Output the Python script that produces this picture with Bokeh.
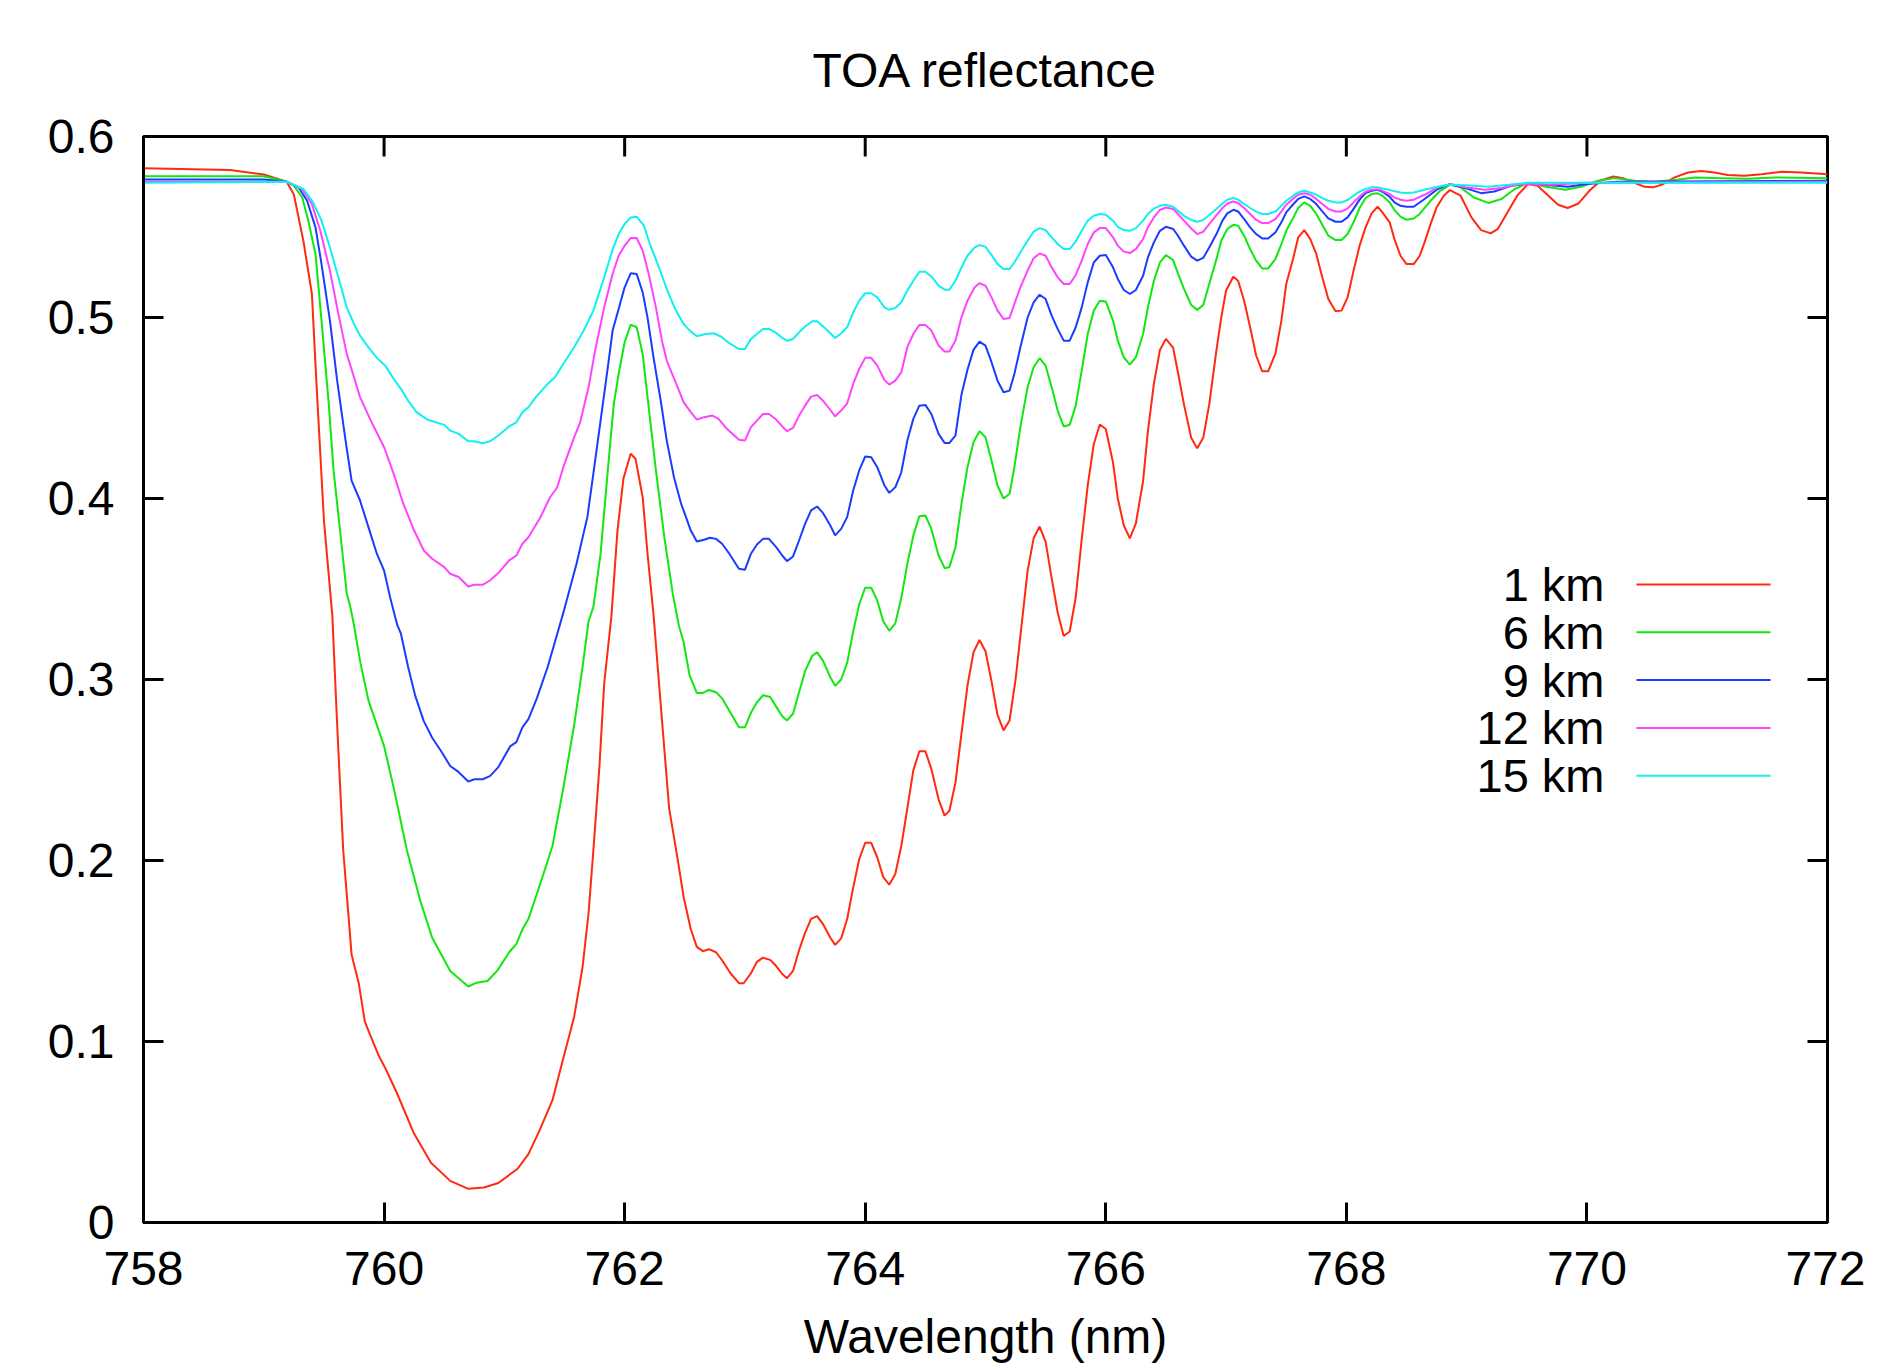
from bokeh.plotting import figure
from bokeh.models import FixedTicker, PrintfTickFormatter, Label, Range1d
from bokeh.embed import file_html
from bokeh.resources import INLINE

FONT = "Liberation Sans"

# ---------------- data ----------------
wl_1km = [758.0, 758.72, 759.0, 759.19, 759.25, 759.33, 759.40, 759.44, 759.50, 759.57, 759.61, 759.66,
          759.73, 759.79, 759.84, 759.90, 759.95, 760.02, 760.11, 760.25, 760.39, 760.55, 760.70, 760.83,
          760.95, 761.11, 761.20, 761.29, 761.40, 761.49, 761.58, 761.65, 761.70, 761.74, 761.79, 761.83,
          761.89, 761.94, 761.99, 762.05, 762.09, 762.15, 762.19, 762.24, 762.30, 762.37, 762.44, 762.49,
          762.55, 762.60, 762.65, 762.70, 762.76, 762.81, 762.88, 762.95, 762.99, 763.05, 763.10, 763.15,
          763.21, 763.26, 763.31, 763.35, 763.40, 763.45, 763.50, 763.55, 763.60, 763.65, 763.71, 763.75,
          763.80, 763.85, 763.90, 763.95, 764.00, 764.05, 764.10, 764.15, 764.20, 764.25, 764.30, 764.35,
          764.40, 764.45, 764.50, 764.55, 764.61, 764.66, 764.70, 764.75, 764.80, 764.85, 764.90, 764.95,
          765.00, 765.05, 765.10, 765.15, 765.20, 765.25, 765.30, 765.35, 765.40, 765.45, 765.50, 765.55,
          765.60, 765.65, 765.70, 765.75, 765.80, 765.85, 765.90, 765.95, 766.00, 766.06, 766.10, 766.15,
          766.20, 766.25, 766.31, 766.35, 766.40, 766.45, 766.50, 766.56, 766.60, 766.65, 766.71, 766.76,
          766.81, 766.86, 766.92, 766.96, 767.00, 767.06, 767.10, 767.15, 767.20, 767.25, 767.30, 767.35,
          767.41, 767.46, 767.50, 767.56, 767.60, 767.65, 767.70, 767.75, 767.80, 767.85, 767.91, 767.96,
          768.01, 768.06, 768.11, 768.16, 768.21, 768.26, 768.30, 768.36, 768.40, 768.45, 768.50, 768.56,
          768.61, 768.65, 768.70, 768.75, 768.81, 768.86, 768.95, 769.04, 769.12, 769.20, 769.26, 769.34,
          769.42, 769.51, 769.59, 769.68, 769.76, 769.84, 769.93, 770.02, 770.12, 770.22, 770.30, 770.40,
          770.48, 770.55, 770.62, 770.73, 770.84, 770.95, 771.06, 771.17, 771.31, 771.45, 771.62, 771.78,
          772.0]
refl_1km = [0.5824, 0.5815, 0.579, 0.575, 0.568, 0.542, 0.513, 0.461, 0.388, 0.335, 0.275, 0.206,
            0.148, 0.132, 0.111, 0.101, 0.093, 0.084, 0.071, 0.049, 0.033, 0.023, 0.0186, 0.0193,
            0.0218, 0.0297, 0.0378, 0.0505, 0.0676, 0.0908, 0.1136, 0.141, 0.171, 0.2056, 0.2516, 0.2978,
            0.335, 0.382, 0.411, 0.4247, 0.422, 0.4007, 0.3696, 0.336, 0.286, 0.2288, 0.201, 0.180,
            0.162, 0.1523, 0.1499, 0.151, 0.1493, 0.1449, 0.1377, 0.1322, 0.1322, 0.1377, 0.144, 0.1463,
            0.1451, 0.1417, 0.1373, 0.135, 0.139, 0.1504, 0.160, 0.1677, 0.1693, 0.1648, 0.1573, 0.1534,
            0.157, 0.1677, 0.185, 0.2007, 0.2098, 0.2098, 0.2018, 0.1908, 0.1866, 0.1925, 0.208, 0.2288,
            0.2498, 0.2604, 0.2604, 0.2505, 0.2338, 0.2248, 0.2275, 0.243, 0.270, 0.2965, 0.315, 0.3218,
            0.3156, 0.299, 0.2804, 0.2719, 0.2774, 0.300, 0.330, 0.360, 0.378, 0.3845, 0.376, 0.356,
            0.337, 0.324, 0.3265, 0.3453, 0.3775, 0.4073, 0.430, 0.4409, 0.4384, 0.4199, 0.400, 0.3851,
            0.378, 0.3862, 0.4096, 0.4372, 0.4635, 0.482, 0.4882, 0.4832, 0.4696, 0.452, 0.4335, 0.4278,
            0.4335, 0.452, 0.482, 0.500, 0.5149, 0.5225, 0.5203, 0.5093, 0.4946, 0.479, 0.4703, 0.4703,
            0.480, 0.4983, 0.5185, 0.5332, 0.5443, 0.5483, 0.5433, 0.5351, 0.5222, 0.5102, 0.5034, 0.5038,
            0.5111, 0.5259, 0.5397, 0.5498, 0.5575, 0.5612, 0.5581, 0.5526, 0.5433, 0.5341, 0.5295, 0.5295,
            0.5341, 0.5415, 0.5516, 0.5608, 0.5673, 0.5704, 0.5673, 0.5553, 0.5483, 0.5465, 0.549, 0.5581,
            0.5673, 0.5737, 0.5728, 0.5673, 0.5623, 0.5605, 0.563, 0.570, 0.5759, 0.5779, 0.577, 0.5743,
            0.5722, 0.5719, 0.5733, 0.5774, 0.5801, 0.581, 0.5801, 0.5787, 0.5783, 0.5792, 0.5805, 0.5801,
            0.5792]

wl_6km = [758.0, 759.0, 759.19, 759.25, 759.32, 759.37, 759.43, 759.48, 759.54, 759.58, 759.64, 759.69,
          759.72, 759.75, 759.80, 759.87, 760.00, 760.08, 760.19, 760.30, 760.40, 760.55, 760.70, 760.77,
          760.86, 760.94, 761.04, 761.10, 761.15, 761.20, 761.30, 761.40, 761.49, 761.58, 761.65, 761.70,
          761.74, 761.80, 761.86, 761.91, 761.95, 762.00, 762.05, 762.10, 762.15, 762.20, 762.26, 762.33,
          762.40, 762.45, 762.49, 762.54, 762.60, 762.65, 762.70, 762.76, 762.81, 762.88, 762.95, 763.00,
          763.05, 763.10, 763.15, 763.21, 763.26, 763.31, 763.35, 763.40, 763.45, 763.50, 763.56, 763.60,
          763.65, 763.71, 763.75, 763.80, 763.85, 763.90, 763.95, 764.00, 764.05, 764.10, 764.15, 764.20,
          764.25, 764.30, 764.35, 764.40, 764.45, 764.50, 764.55, 764.61, 764.66, 764.70, 764.75, 764.80,
          764.85, 764.90, 764.95, 765.00, 765.05, 765.10, 765.15, 765.20, 765.24, 765.29, 765.35, 765.40,
          765.45, 765.50, 765.55, 765.60, 765.65, 765.70, 765.75, 765.80, 765.85, 765.90, 765.95, 766.00,
          766.06, 766.10, 766.15, 766.20, 766.25, 766.31, 766.35, 766.40, 766.45, 766.50, 766.56, 766.60,
          766.65, 766.71, 766.76, 766.81, 766.86, 766.92, 766.96, 767.01, 767.06, 767.10, 767.15, 767.20,
          767.25, 767.30, 767.35, 767.41, 767.46, 767.50, 767.56, 767.60, 767.65, 767.70, 767.75, 767.80,
          767.85, 767.91, 767.96, 768.01, 768.06, 768.11, 768.16, 768.21, 768.26, 768.30, 768.36, 768.40,
          768.45, 768.50, 768.56, 768.61, 768.70, 768.78, 768.86, 768.95, 769.06, 769.18, 769.29, 769.40,
          769.51, 769.65, 769.82, 769.96, 770.09, 770.23, 770.40, 770.56, 770.73, 770.90, 771.12, 771.34,
          771.56, 772.0]
refl_6km = [0.578, 0.578, 0.575, 0.5728, 0.5663, 0.5535, 0.5351, 0.4983, 0.4523, 0.4155, 0.3786, 0.3474,
            0.340, 0.330, 0.3103, 0.2885, 0.2632, 0.2402, 0.2056, 0.178, 0.1573, 0.139, 0.1304, 0.1325,
            0.1334, 0.139, 0.1493, 0.1539, 0.162, 0.1677, 0.1874, 0.208, 0.240, 0.2747, 0.3069, 0.3322,
            0.340, 0.3695, 0.4155, 0.4523, 0.4688, 0.4863, 0.496, 0.4946, 0.4799, 0.4504, 0.4155, 0.3786,
            0.3474, 0.330, 0.3207, 0.3023, 0.2926, 0.2926, 0.2942, 0.293, 0.2896, 0.2816, 0.2736, 0.2736,
            0.2816, 0.2874, 0.2913, 0.2903, 0.285, 0.2797, 0.2774, 0.2811, 0.293, 0.3046, 0.3131, 0.315,
            0.3103, 0.3012, 0.2965, 0.300, 0.3092, 0.3265, 0.3415, 0.3507, 0.3507, 0.3437, 0.3322, 0.3269,
            0.331, 0.345, 0.3639, 0.3796, 0.3902, 0.3906, 0.3832, 0.3685, 0.3615, 0.3621, 0.3731, 0.397,
            0.4173, 0.4311, 0.4372, 0.4338, 0.421, 0.4072, 0.400, 0.4026, 0.4173, 0.4394, 0.4615, 0.4725,
            0.4775, 0.4734, 0.4615, 0.4486, 0.4398, 0.4407, 0.4513, 0.4707, 0.4909, 0.5038, 0.5093, 0.5089,
            0.4983, 0.4872, 0.478, 0.474, 0.478, 0.4909, 0.5056, 0.5203, 0.5304, 0.5345, 0.5317, 0.5244,
            0.5158, 0.5069, 0.5042, 0.5069, 0.5185, 0.5323, 0.5424, 0.5489, 0.5512, 0.5507, 0.5452, 0.5378,
            0.5314, 0.5271, 0.5271, 0.5323, 0.5406, 0.5479, 0.5553, 0.5605, 0.5636, 0.5617, 0.5572, 0.5512,
            0.5452, 0.5428, 0.5428, 0.5461, 0.5526, 0.5605, 0.566, 0.5682, 0.5686, 0.5673, 0.5636, 0.5594,
            0.5557, 0.554, 0.5547, 0.5572, 0.5645, 0.570, 0.5733, 0.5719, 0.5663, 0.5633, 0.5655, 0.571,
            0.5744, 0.5724, 0.5706, 0.5724, 0.5756, 0.577, 0.5756, 0.575, 0.576, 0.5774, 0.577, 0.5766,
            0.5774, 0.577]

wl_9km = [758.0, 759.0, 759.19, 759.29, 759.36, 759.43, 759.48, 759.55, 759.61, 759.68, 759.73, 759.80,
          759.87, 759.94, 760.00, 760.05, 760.11, 760.14, 760.20, 760.26, 760.33, 760.40, 760.48, 760.55,
          760.61, 760.70, 760.75, 760.82, 760.88, 760.95, 761.05, 761.10, 761.15, 761.20, 761.27, 761.36,
          761.41, 761.49, 761.60, 761.69, 761.74, 761.80, 761.86, 761.90, 761.95, 762.00, 762.05, 762.10,
          762.15, 762.19, 762.24, 762.30, 762.35, 762.41, 762.47, 762.51, 762.55, 762.60, 762.66, 762.71,
          762.76, 762.81, 762.87, 762.95, 763.00, 763.05, 763.10, 763.15, 763.20, 763.26, 763.31, 763.35,
          763.40, 763.45, 763.50, 763.55, 763.60, 763.65, 763.71, 763.75, 763.80, 763.85, 763.90, 763.95,
          764.00, 764.05, 764.10, 764.16, 764.20, 764.25, 764.30, 764.35, 764.40, 764.45, 764.50, 764.55,
          764.61, 764.66, 764.70, 764.75, 764.80, 764.85, 764.90, 764.95, 765.00, 765.05, 765.10, 765.15,
          765.20, 765.24, 765.29, 765.35, 765.40, 765.45, 765.50, 765.55, 765.60, 765.65, 765.70, 765.75,
          765.80, 765.85, 765.90, 765.95, 766.00, 766.06, 766.10, 766.15, 766.20, 766.25, 766.31, 766.35,
          766.40, 766.45, 766.50, 766.56, 766.60, 766.65, 766.71, 766.76, 766.81, 766.86, 766.92, 766.97,
          767.01, 767.06, 767.10, 767.15, 767.20, 767.25, 767.30, 767.35, 767.41, 767.46, 767.50, 767.56,
          767.60, 767.65, 767.70, 767.75, 767.80, 767.85, 767.91, 767.96, 768.01, 768.06, 768.11, 768.16,
          768.21, 768.26, 768.30, 768.36, 768.40, 768.45, 768.50, 768.56, 768.65, 768.76, 768.86, 768.99,
          769.12, 769.23, 769.37, 769.51, 769.70, 769.84, 770.00, 770.25, 772.0]
refl_9km = [0.5763, 0.5763, 0.575, 0.5718, 0.5645, 0.5498, 0.5295, 0.4983, 0.4651, 0.432, 0.4099, 0.3989,
            0.3842, 0.3695, 0.3602, 0.3455, 0.330, 0.3253, 0.3069, 0.2908, 0.277, 0.2678, 0.2598, 0.2522,
            0.2494, 0.2436, 0.2449, 0.2449, 0.2466, 0.2516, 0.2632, 0.2654, 0.2736, 0.2781, 0.2896, 0.3069,
            0.3184, 0.3368, 0.3639, 0.3897, 0.4137, 0.443, 0.4725, 0.4928, 0.5047, 0.5167, 0.5244, 0.524,
            0.5139, 0.5001, 0.478, 0.454, 0.432, 0.4118, 0.397, 0.3897, 0.3823, 0.3762, 0.3772, 0.3783,
            0.3777, 0.375, 0.3695, 0.3612, 0.3606, 0.3695, 0.3746, 0.3777, 0.3777, 0.3731, 0.3685, 0.3654,
            0.368, 0.3768, 0.386, 0.3934, 0.3956, 0.3919, 0.3851, 0.3796, 0.3832, 0.3897, 0.4044, 0.4155,
            0.4232, 0.4228, 0.4173, 0.4072, 0.4031, 0.4062, 0.4145, 0.432, 0.444, 0.4513, 0.4517, 0.4467,
            0.4357, 0.4307, 0.4307, 0.4348, 0.4573, 0.4711, 0.4821, 0.4867, 0.4845, 0.4753, 0.4651, 0.4587,
            0.4596, 0.4688, 0.4836, 0.500, 0.5084, 0.5126, 0.5102, 0.501, 0.4937, 0.4872, 0.4872, 0.4946,
            0.5056, 0.5194, 0.5304, 0.5341, 0.5345, 0.5277, 0.5213, 0.5152, 0.513, 0.5152, 0.5231, 0.5332,
            0.5415, 0.5479, 0.5501, 0.5489, 0.5452, 0.5397, 0.5336, 0.5314, 0.5329, 0.5387, 0.5461, 0.5535,
            0.5575, 0.5595, 0.5586, 0.5544, 0.5498, 0.5461, 0.5437, 0.5437, 0.547, 0.5526, 0.5581, 0.5627,
            0.5655, 0.5669, 0.5655, 0.5627, 0.5586, 0.5548, 0.5529, 0.5529, 0.5553, 0.560, 0.5651, 0.5688,
            0.570, 0.5706, 0.5695, 0.5667, 0.5636, 0.5617, 0.5612, 0.5612, 0.5655, 0.571, 0.5737, 0.5715,
            0.5687, 0.5696, 0.5728, 0.5741, 0.573, 0.5722, 0.5737, 0.575, 0.5756]

wl_12km = [758.0, 759.19, 759.32, 759.40, 759.47, 759.55, 759.62, 759.69, 759.75, 759.80, 759.89, 760.00,
           760.08, 760.16, 760.25, 760.33, 760.40, 760.50, 760.55, 760.62, 760.70, 760.75, 760.82, 760.88,
           760.95, 761.04, 761.10, 761.15, 761.20, 761.30, 761.38, 761.44, 761.49, 761.58, 761.63, 761.70,
           761.76, 761.83, 761.90, 761.95, 762.00, 762.05, 762.10, 762.15, 762.20, 762.26, 762.31, 762.35,
           762.44, 762.49, 762.55, 762.60, 762.66, 762.73, 762.78, 762.85, 762.95, 763.00, 763.05, 763.10,
           763.15, 763.20, 763.26, 763.31, 763.35, 763.40, 763.45, 763.50, 763.55, 763.60, 763.65, 763.71,
           763.75, 763.80, 763.85, 763.90, 763.95, 764.00, 764.05, 764.10, 764.16, 764.20, 764.25, 764.30,
           764.35, 764.40, 764.45, 764.50, 764.55, 764.61, 764.66, 764.70, 764.75, 764.80, 764.85, 764.91,
           764.95, 765.00, 765.05, 765.10, 765.15, 765.20, 765.24, 765.29, 765.35, 765.40, 765.45, 765.50,
           765.55, 765.60, 765.65, 765.70, 765.75, 765.80, 765.85, 765.90, 765.95, 766.00, 766.06, 766.10,
           766.15, 766.20, 766.25, 766.31, 766.35, 766.40, 766.45, 766.50, 766.56, 766.60, 766.65, 766.71,
           766.76, 766.81, 766.86, 766.92, 766.97, 767.01, 767.06, 767.10, 767.15, 767.20, 767.25, 767.30,
           767.35, 767.41, 767.46, 767.50, 767.56, 767.60, 767.65, 767.70, 767.75, 767.80, 767.85, 767.91,
           767.96, 768.01, 768.06, 768.11, 768.16, 768.21, 768.26, 768.30, 768.36, 768.40, 768.45, 768.50,
           768.56, 768.65, 768.76, 768.86, 768.99, 769.15, 769.29, 769.46, 769.70, 770.00, 772.0]
refl_12km = [0.575, 0.575, 0.571, 0.5627, 0.5479, 0.5259, 0.502, 0.4799, 0.467, 0.456, 0.443, 0.4283,
             0.4136, 0.3971, 0.3823, 0.3713, 0.3667, 0.3621, 0.3584, 0.3566, 0.3514, 0.3523, 0.3523, 0.3547,
             0.3588, 0.3658, 0.3685, 0.375, 0.3786, 0.3897, 0.4007, 0.4062, 0.4173, 0.4338, 0.4421, 0.4615,
             0.4836, 0.5056, 0.524, 0.5341, 0.5397, 0.5439, 0.5439, 0.537, 0.524, 0.5056, 0.4872, 0.4762,
             0.4615, 0.4532, 0.4477, 0.4436, 0.4449, 0.4458, 0.444, 0.4385, 0.4324, 0.432, 0.4394, 0.443,
             0.4467, 0.4467, 0.4436, 0.4398, 0.4372, 0.439, 0.4458, 0.4513, 0.4563, 0.4572, 0.454, 0.4489,
             0.4454, 0.4486, 0.4526, 0.4633, 0.4716, 0.4777, 0.4777, 0.4734, 0.4655, 0.4629, 0.4651, 0.4697,
             0.4836, 0.4909, 0.4959, 0.4959, 0.4928, 0.4845, 0.4812, 0.4812, 0.4872, 0.5001, 0.5093, 0.5167,
             0.5189, 0.5176, 0.5111, 0.5038, 0.4992, 0.4997, 0.5075, 0.5167, 0.5259, 0.5327, 0.5354, 0.5341,
             0.5277, 0.5222, 0.5185, 0.5185, 0.5235, 0.5314, 0.5406, 0.547, 0.5494, 0.5494, 0.5443, 0.5397,
             0.5364, 0.5356, 0.5378, 0.5433, 0.5498, 0.5553, 0.5594, 0.5608, 0.560, 0.5572, 0.5535, 0.5492,
             0.5461, 0.5474, 0.5516, 0.5566, 0.5605, 0.563, 0.5641, 0.5633, 0.5605, 0.5572, 0.5539, 0.5522,
             0.5522, 0.5544, 0.5586, 0.5623, 0.5658, 0.5678, 0.5686, 0.5678, 0.5655, 0.5627, 0.560, 0.5586,
             0.5586, 0.5602, 0.5636, 0.5669, 0.5695, 0.5706, 0.5708, 0.570, 0.5682, 0.5663, 0.5651, 0.5645,
             0.5651, 0.5678, 0.5719, 0.5737, 0.572, 0.5706, 0.5715, 0.5737, 0.5734, 0.5745, 0.575]

wl_15km = [758.0, 759.19, 759.33, 759.41, 759.48, 759.55, 759.62, 759.69, 759.75, 759.80, 759.87, 759.94,
           760.01, 760.08, 760.15, 760.20, 760.27, 760.36, 760.43, 760.50, 760.55, 760.62, 760.70, 760.75,
           760.82, 760.88, 760.95, 761.04, 761.10, 761.15, 761.20, 761.26, 761.36, 761.42, 761.49, 761.58,
           761.66, 761.74, 761.83, 761.90, 761.95, 762.00, 762.05, 762.10, 762.16, 762.21, 762.28, 762.35,
           762.42, 762.49, 762.55, 762.60, 762.67, 762.74, 762.80, 762.87, 762.95, 763.00, 763.05, 763.10,
           763.15, 763.20, 763.26, 763.31, 763.35, 763.40, 763.45, 763.50, 763.56, 763.60, 763.65, 763.71,
           763.75, 763.80, 763.85, 763.90, 763.95, 764.00, 764.05, 764.10, 764.16, 764.20, 764.25, 764.30,
           764.35, 764.41, 764.45, 764.50, 764.55, 764.61, 764.66, 764.70, 764.75, 764.80, 764.85, 764.91,
           764.95, 765.00, 765.05, 765.10, 765.15, 765.20, 765.24, 765.29, 765.35, 765.40, 765.45, 765.50,
           765.55, 765.60, 765.65, 765.70, 765.75, 765.80, 765.85, 765.90, 765.95, 766.00, 766.06, 766.10,
           766.15, 766.20, 766.25, 766.31, 766.35, 766.40, 766.45, 766.50, 766.56, 766.60, 766.65, 766.71,
           766.76, 766.81, 766.86, 766.92, 766.97, 767.01, 767.06, 767.10, 767.15, 767.20, 767.25, 767.30,
           767.35, 767.41, 767.46, 767.50, 767.56, 767.60, 767.65, 767.70, 767.75, 767.80, 767.85, 767.91,
           767.96, 768.01, 768.06, 768.11, 768.16, 768.21, 768.26, 768.30, 768.36, 768.40, 768.45, 768.50,
           768.56, 768.65, 768.76, 768.86, 769.00, 769.18, 769.35, 769.51, 770.00, 772.0]
refl_15km = [0.5745, 0.575, 0.571, 0.5636, 0.5535, 0.5387, 0.5222, 0.5056, 0.4964, 0.490, 0.4835, 0.4777,
             0.4734, 0.4661, 0.4596, 0.454, 0.4477, 0.4436, 0.4421, 0.4407, 0.4375, 0.4357, 0.4316, 0.4316,
             0.4305, 0.4316, 0.4348, 0.4398, 0.4421, 0.4476, 0.4504, 0.4559, 0.4633, 0.467, 0.4743, 0.4836,
             0.4928, 0.5038, 0.5222, 0.5375, 0.5461, 0.5516, 0.5553, 0.5557, 0.5507, 0.5406, 0.5286, 0.5158,
             0.5047, 0.4964, 0.4922, 0.4896, 0.4909, 0.4913, 0.4895, 0.4858, 0.4826, 0.4826, 0.4881, 0.4909,
             0.4937, 0.4937, 0.4915, 0.4887, 0.4872, 0.4881, 0.4918, 0.495, 0.4979, 0.4979, 0.4951, 0.4913,
             0.4887, 0.4913, 0.4946, 0.5028, 0.5093, 0.5134, 0.5134, 0.5111, 0.5056, 0.5043, 0.5053, 0.5084,
             0.5149, 0.5213, 0.5253, 0.5253, 0.5227, 0.5176, 0.5154, 0.5154, 0.5203, 0.5277, 0.5341, 0.5387,
             0.540, 0.5391, 0.5345, 0.5295, 0.5268, 0.5268, 0.5304, 0.536, 0.5424, 0.5474, 0.5494, 0.5483,
             0.5443, 0.5406, 0.5378, 0.5378, 0.542, 0.5479, 0.5535, 0.5562, 0.5572, 0.5568, 0.5535, 0.5501,
             0.5483, 0.5479, 0.5494, 0.5535, 0.5572, 0.5602, 0.5617, 0.5623, 0.5612, 0.559, 0.5562, 0.5539,
             0.5529, 0.5539, 0.5566, 0.560, 0.563, 0.5651, 0.566, 0.5651, 0.5627, 0.5605, 0.5585, 0.5572,
             0.5572, 0.5586, 0.5617, 0.5645, 0.5673, 0.5691, 0.570, 0.5691, 0.5678, 0.566, 0.5645, 0.5636,
             0.5636, 0.5649, 0.5673, 0.5695, 0.571, 0.5719, 0.5719, 0.5713, 0.5704, 0.5697, 0.5691, 0.5688,
             0.5691, 0.5706, 0.5722, 0.5733, 0.573, 0.5722, 0.5733, 0.5744, 0.5745, 0.5745]

series_names = ["1 km", "6 km", "9 km", "12 km", "15 km"]
series_x = [wl_1km, wl_6km, wl_9km, wl_12km, wl_15km]
series_y = [refl_1km, refl_6km, refl_9km, refl_12km, refl_15km]
series_colors = ["#ff2a10", "#10e810", "#1a3cff", "#ff44ff", "#10f0f0"]

x_ticks = [758, 760, 762, 764, 766, 768, 770, 772]
y_ticks = [0, 0.1, 0.2, 0.3, 0.4, 0.5, 0.6]

# ---------------- figure ----------------
W, H = 1865, 1366
BL, BR, BT, BB = 143, 38, 136, 144
X0, X1, Y0, Y1 = 758, 772, 0.0, 0.6
FW, FH = W - BL - BR, H - BT - BB
TICK = 20  # px, inward tick length

p = figure(width=W, height=H, output_backend="svg", toolbar_location=None,
           x_range=Range1d(X0, X1), y_range=Range1d(Y0, Y1),
           min_border_left=BL, min_border_right=BR, min_border_top=BT, min_border_bottom=BB,
           x_axis_label="Wavelength (nm)")
p.background_fill_color = "white"
p.border_fill_color = "white"
p.xgrid.visible = False
p.ygrid.visible = False
p.outline_line_color = "black"
p.outline_line_width = 3

p.title.text = "TOA reflectance"
p.title.align = "center"
p.title.text_font = FONT
p.title.text_font_size = "48px"
p.title.text_font_style = "normal"
p.title.text_color = "black"
p.title.standoff = 79

def style_axis(ax):
    ax.axis_line_width = 3
    ax.axis_line_color = "black"
    ax.major_tick_line_width = 3
    ax.major_tick_line_color = "black"
    ax.major_tick_in = TICK
    ax.major_tick_out = 0
    ax.minor_tick_line_color = None
    ax.major_label_text_font = FONT
    ax.major_label_text_color = "black"
    ax.major_label_text_font_size = "48px"
    ax.axis_label_text_font = FONT
    ax.axis_label_text_font_size = "48px"
    ax.axis_label_text_font_style = "normal"
    ax.axis_label_text_color = "black"

xb = p.xaxis[0]
xb.ticker = FixedTicker(ticks=x_ticks)
style_axis(xb)
xb.major_label_standoff = 29
xb.axis_label_standoff = 22

yl = p.yaxis[0]
yl.ticker = FixedTicker(ticks=y_ticks)
yl.formatter = PrintfTickFormatter(format="%g")
style_axis(yl)
yl.major_label_standoff = 29

# mirrored inward ticks on the top and right frame edges (from the same tick lists)
dy_tick = (Y1 - Y0) * TICK / FH
dx_tick = (X1 - X0) * TICK / FW
p.segment(x0=x_ticks, y0=[Y1] * len(x_ticks), x1=x_ticks, y1=[Y1 - dy_tick] * len(x_ticks),
          line_color="black", line_width=3)
p.segment(x0=[X1] * len(y_ticks), y0=y_ticks, x1=[X1 - dx_tick] * len(y_ticks), y1=y_ticks,
          line_color="black", line_width=3)

for xs, ys, c in zip(series_x, series_y, series_colors):
    p.line(xs, ys, line_color=c, line_width=2)

# ---------------- legend (label on the left, sample line on the right) ----------------
def sx_to_data(px):
    return X0 + (X1 - X0) * px / FW
def sy_to_data(py):
    return Y1 - (Y1 - Y0) * py / FH

leg_text_right = 1461   # px from frame left
leg_line_left, leg_line_right = 1493, 1627
leg_top, leg_step = 448, 47.8
for i, (name, c) in enumerate(zip(series_names, series_colors)):
    yy = sy_to_data(leg_top + i * leg_step)
    p.add_layout(Label(x=sx_to_data(leg_text_right), y=yy, text=name,
                       text_align="right", text_baseline="middle",
                       text_font=FONT, text_font_size="47px", text_color="black"))
    p.line([sx_to_data(leg_line_left), sx_to_data(leg_line_right)], [yy, yy],
           line_color=c, line_width=2)

open("out.html", "w").write(file_html(p, INLINE))
